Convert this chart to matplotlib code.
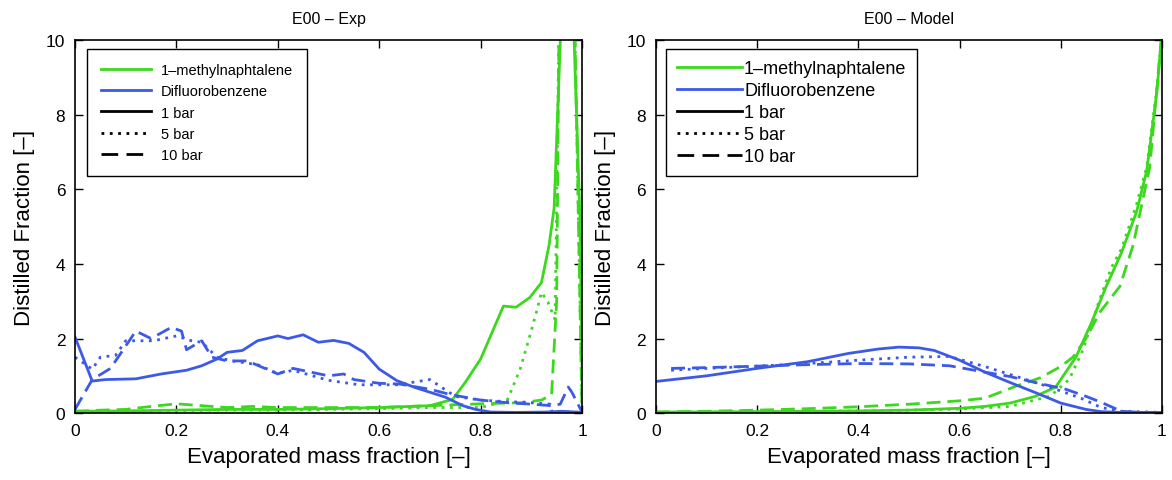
import matplotlib
matplotlib.use("Agg")
import matplotlib.pyplot as plt
from matplotlib.lines import Line2D

plt.rcParams['font.family'] = ['Liberation Sans', 'DejaVu Sans']

green = '#3cd81e'
blue = '#3c5ae6'

# ---- experimental curves ----
exp_dfb_1_x = [0, 0.034, 0.06, 0.12, 0.17, 0.22, 0.25, 0.28, 0.30, 0.33, 0.36, 0.40, 0.42, 0.45,
               0.48, 0.51, 0.54, 0.57, 0.60, 0.635, 0.67, 0.70, 0.73, 0.765, 0.79, 0.82, 0.87,
               0.93, 0.96, 1.0]
exp_dfb_1_y = [2.04, 0.86, 0.9, 0.92, 1.05, 1.15, 1.27, 1.45, 1.63, 1.68, 1.94, 2.07, 2.0, 2.1,
               1.9, 1.95, 1.87, 1.63, 1.18, 0.87, 0.69, 0.56, 0.43, 0.2, 0.1, 0.03, 0.02,
               0.03, 0.05, 0.02]

exp_dfb_5_x = [0, 0.034, 0.05, 0.08, 0.10, 0.155, 0.2, 0.23, 0.25, 0.28, 0.31, 0.36, 0.40, 0.43,
               0.50, 0.56, 0.635, 0.70, 0.75, 0.80, 0.86, 0.88, 0.937, 0.94, 0.97, 1.0]
exp_dfb_5_y = [1.5, 1.18, 1.5, 1.55, 1.94, 1.94, 2.07, 1.94, 1.9, 1.5, 1.4, 1.3, 1.06, 1.15,
               0.88, 0.76, 0.76, 0.9, 0.45, 0.35, 0.3, 0.3, 0.24, 0.05, 0.03, 0.02]

exp_dfb_10_x = [0, 0.034, 0.07, 0.12, 0.15, 0.19, 0.21, 0.22, 0.25, 0.27, 0.30, 0.34, 0.40, 0.43,
                0.50, 0.53, 0.55, 0.60, 0.64, 0.70, 0.74, 0.80, 0.86, 0.89, 0.94, 0.957, 0.973,
                0.98, 1.0]
exp_dfb_10_y = [0.1, 0.9, 1.2, 2.2, 2.0, 2.3, 2.2, 1.7, 1.94, 1.5, 1.4, 1.4, 1.05, 1.2,
                1.0, 1.05, 0.9, 0.8, 0.78, 0.64, 0.5, 0.35, 0.27, 0.25, 0.2, 0.24, 0.7,
                0.56, 0.03]

exp_mn_1_x = [0, 0.1, 0.2, 0.3, 0.4, 0.5, 0.6, 0.7, 0.745, 0.77, 0.80, 0.845, 0.87, 0.897,
              0.92, 0.935, 0.945, 0.96, 0.982, 0.996, 1.0]
exp_mn_1_y = [0.05, 0.06, 0.08, 0.1, 0.1, 0.12, 0.15, 0.2, 0.37, 0.83, 1.45, 2.87, 2.84, 3.1,
              3.5, 4.5, 5.5, 11, 11, 5.2, 1.3]

exp_mn_5_x = [0, 0.1, 0.2, 0.3, 0.4, 0.5, 0.6, 0.7, 0.8, 0.852, 0.878, 0.897, 0.91, 0.92,
              0.933, 0.947, 0.955, 0.985, 1.0]
exp_mn_5_y = [0.03, 0.05, 0.07, 0.08, 0.08, 0.1, 0.12, 0.15, 0.15, 0.33, 1.18, 2.07, 2.7, 3.24,
              2.97, 2.5, 11, 11, 0.0]

exp_mn_10_x = [0, 0.05, 0.1, 0.15, 0.2, 0.25, 0.3, 0.35, 0.4, 0.5, 0.6, 0.7, 0.8, 0.88, 0.92,
               0.94, 0.95, 0.955, 0.985, 1.0]
exp_mn_10_y = [0.05, 0.08, 0.1, 0.18, 0.25, 0.2, 0.15, 0.18, 0.15, 0.15, 0.15, 0.2, 0.25, 0.28,
               0.35, 0.5, 3.0, 11, 11, 0.0]

# ---- model curves ----
mod_dfb_1_x = [0, 0.1, 0.2, 0.3, 0.38, 0.44, 0.48, 0.52, 0.55, 0.6, 0.65, 0.7, 0.75, 0.8,
               0.85, 0.88, 0.92, 1.0]
mod_dfb_1_y = [0.85, 1.0, 1.2, 1.38, 1.6, 1.72, 1.77, 1.75, 1.68, 1.42, 1.1, 0.82, 0.55, 0.27,
               0.1, 0.04, 0.02, 0.02]

mod_dfb_5_x = [0.03, 0.1, 0.2, 0.3, 0.4, 0.5, 0.58, 0.65, 0.72, 0.78, 0.84, 0.88, 0.92, 1.0]
mod_dfb_5_y = [1.15, 1.2, 1.26, 1.33, 1.42, 1.5, 1.52, 1.25, 0.95, 0.69, 0.4, 0.15, 0.05, 0.02]

mod_dfb_10_x = [0.03, 0.1, 0.2, 0.3, 0.4, 0.5, 0.58, 0.65, 0.7, 0.75, 0.81, 0.85, 0.88, 0.92,
                0.96, 1.0]
mod_dfb_10_y = [1.2, 1.22, 1.26, 1.3, 1.33, 1.32, 1.27, 1.1, 0.98, 0.82, 0.64, 0.45, 0.29, 0.05,
                0.02, 0.02]

mod_mn_1_x = [0, 0.1, 0.2, 0.3, 0.4, 0.5, 0.6, 0.65, 0.7, 0.75, 0.79, 0.83, 0.86, 0.89, 0.92,
              0.95, 0.97, 0.99, 1.0]
mod_mn_1_y = [0.03, 0.03, 0.04, 0.05, 0.06, 0.08, 0.13, 0.18, 0.27, 0.45, 0.7, 1.5, 2.4, 3.4,
              4.3, 5.4, 6.5, 8.6, 10.2]

mod_mn_5_x = [0, 0.1, 0.2, 0.3, 0.4, 0.5, 0.6, 0.7, 0.78, 0.817, 0.844, 0.877, 0.9, 0.92,
              0.95, 0.97, 0.99, 1.0]
mod_mn_5_y = [0.02, 0.03, 0.04, 0.05, 0.06, 0.08, 0.11, 0.18, 0.46, 0.91, 1.7, 3.05, 3.9, 4.4,
              5.6, 6.6, 8.7, 10.2]

mod_mn_10_x = [0, 0.1, 0.2, 0.3, 0.4, 0.5, 0.6, 0.65, 0.713, 0.76, 0.8, 0.824, 0.85, 0.877,
               0.917, 0.943, 0.976, 1.0]
mod_mn_10_y = [0.03, 0.05, 0.08, 0.12, 0.17, 0.24, 0.33, 0.4, 0.73, 0.95, 1.25, 1.5, 2.0, 2.7,
               3.4, 4.5, 6.6, 10.2]

fig = plt.figure(figsize=(11.72, 4.81), dpi=100)
ax1 = fig.add_axes([0.064, 0.139, 0.4326, 0.7755])
ax2 = fig.add_axes([0.5597, 0.139, 0.4317, 0.7755])

lw = 2.0
dot = (0, (1, 2))
dash = (0, (5, 2.5))

ax1.plot(exp_mn_1_x, exp_mn_1_y, color=green, lw=lw, ls='-')
ax1.plot(exp_mn_5_x, exp_mn_5_y, color=green, lw=lw, ls=dot)
ax1.plot(exp_mn_10_x, exp_mn_10_y, color=green, lw=lw, ls=dash)
ax1.plot(exp_dfb_1_x, exp_dfb_1_y, color=blue, lw=lw, ls='-')
ax1.plot(exp_dfb_5_x, exp_dfb_5_y, color=blue, lw=lw, ls=dot)
ax1.plot(exp_dfb_10_x, exp_dfb_10_y, color=blue, lw=lw, ls=dash)

ax2.plot(mod_mn_1_x, mod_mn_1_y, color=green, lw=lw, ls='-')
ax2.plot(mod_mn_5_x, mod_mn_5_y, color=green, lw=lw, ls=dot)
ax2.plot(mod_mn_10_x, mod_mn_10_y, color=green, lw=lw, ls=dash)
ax2.plot(mod_dfb_1_x, mod_dfb_1_y, color=blue, lw=lw, ls='-')
ax2.plot(mod_dfb_5_x, mod_dfb_5_y, color=blue, lw=lw, ls=dot)
ax2.plot(mod_dfb_10_x, mod_dfb_10_y, color=blue, lw=lw, ls=dash)

xticks = [0, 0.2, 0.4, 0.6, 0.8, 1]
xticklabels = ['0', '0.2', '0.4', '0.6', '0.8', '1']
yticks = [0, 2, 4, 6, 8, 10]
legend_labels = ['1\u2013methylnaphtalene', 'Difluorobenzene', '1 bar', '5 bar', '10 bar']

handles = [Line2D([], [], color=green, lw=lw),
           Line2D([], [], color=blue, lw=lw),
           Line2D([], [], color='black', lw=lw),
           Line2D([], [], color='black', lw=lw, ls=dot),
           Line2D([], [], color='black', lw=lw, ls=(0, (6, 3)))]

for ax, title in [(ax1, 'E00 \u2013 Exp'), (ax2, 'E00 \u2013 Model')]:
    ax.set_xlim(0, 1)
    ax.set_ylim(0, 10)
    ax.set_xticks(xticks)
    ax.set_xticklabels(xticklabels)
    ax.set_yticks(yticks)
    ax.tick_params(direction='in', length=6, width=1, top=True, right=True,
                   labelsize=12.5, pad=7)
    for s in ax.spines.values():
        s.set_linewidth(1.2)
    ax.set_title(title, fontsize=11.5, pad=12)
    ax.set_xlabel('Evaporated mass fraction [\u2013]', fontsize=16, labelpad=6)
    ax.set_ylabel('Distilled Fraction [\u2013]', fontsize=16, labelpad=8)

leg1 = ax1.legend(handles, legend_labels, loc='upper left', bbox_to_anchor=(0.024, 0.976),
                  borderaxespad=0, fontsize=10.5, handlelength=3.4, handletextpad=0.7,
                  labelspacing=0.5, borderpad=0.95, fancybox=False, framealpha=1)
leg2 = ax2.legend(handles, legend_labels, loc='upper left', bbox_to_anchor=(0.02, 0.976),
                  borderaxespad=0, fontsize=13, handlelength=3.6, handletextpad=0.12,
                  labelspacing=0.28, borderpad=0.6, fancybox=False, framealpha=1)
for leg in (leg1, leg2):
    leg.get_frame().set_edgecolor('black')
    leg.get_frame().set_linewidth(1.0)

fig.savefig('out.png', dpi=100)
